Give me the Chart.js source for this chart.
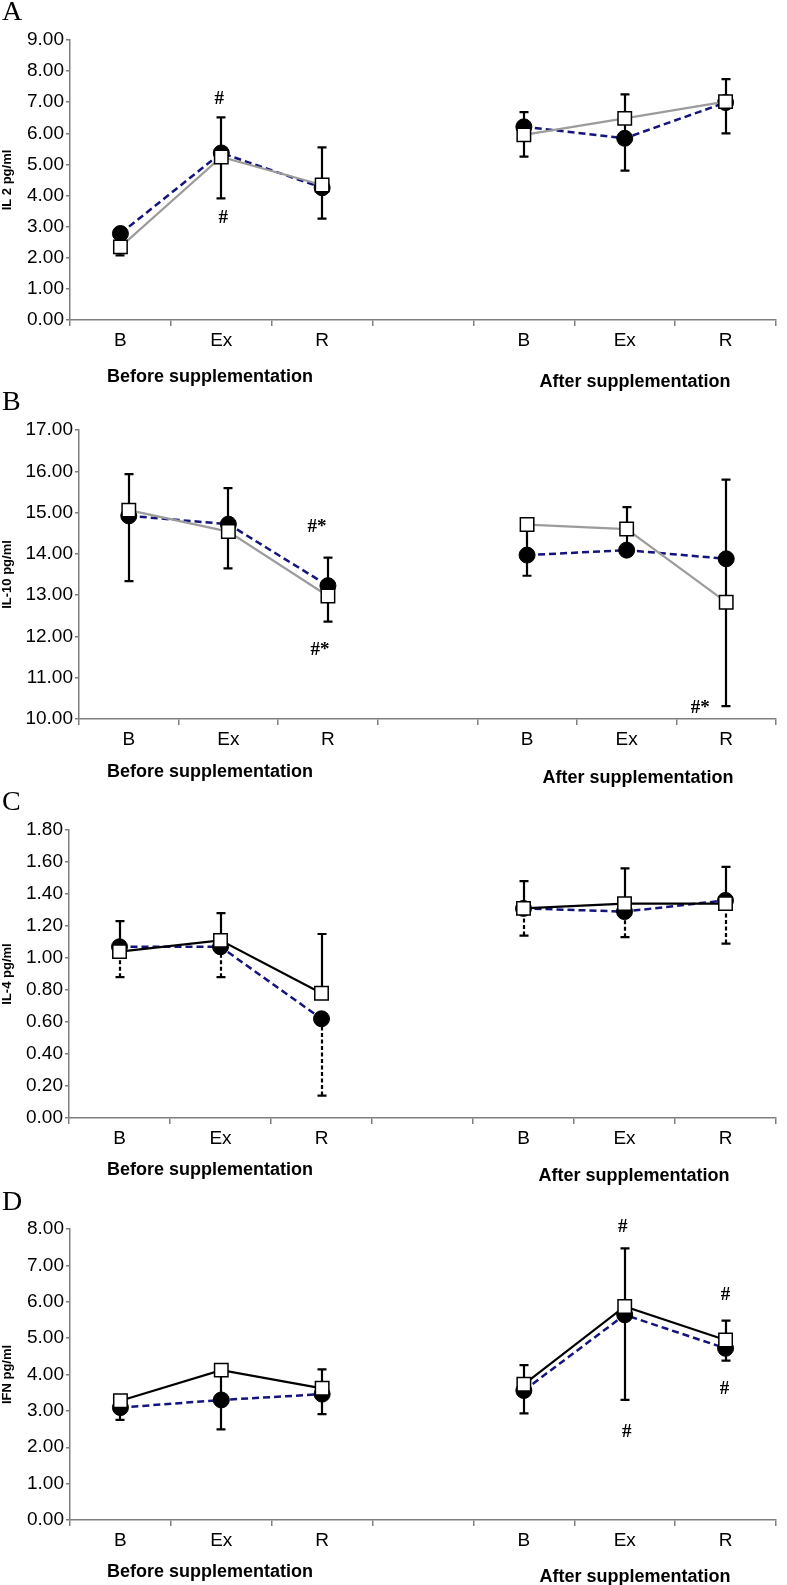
<!DOCTYPE html>
<html>
<head>
<meta charset="utf-8">
<script src="https://cdn.jsdelivr.net/npm/chart.js@4/dist/chart.umd.min.js"></script>
<style>
  body { margin: 0; background: #fff; }
  #page { position: relative; width: 787px; height: 1585px; overflow: hidden; background: #fff; }
  .panel { position: absolute; left: 0; }
  .letter { position: absolute; left: 2px; font: 28px "Liberation Serif", serif; line-height: 28px; color: #000; }
  .group { position: absolute; font: bold 18px "Liberation Sans", Arial, sans-serif; color: #000; transform: translate(-50%, -50%); white-space: nowrap; }
</style>
</head>
<body>
<div id="page"></div>
<script>
// ============================================================
// Cytokines before / after supplementation — 4 stacked panels
// ============================================================

const categories = ['B', 'Ex', 'R', '', 'B', 'Ex', 'R'];

// ---- A: IL 2 ----
const il2Circle = [2.78, 5.37, 4.25, null, 6.21, 5.84, 6.99];
const il2Square = [2.35, 5.24, 4.34, null, 5.95, 6.48, 7.02];
const il2BarLo  = [2.08, 3.91, 3.26, null, 5.25, 4.80, 6.00];
const il2BarHi  = [2.62, 6.51, 5.55, null, 6.68, 7.25, 7.74];

// ---- B: IL-10 ----
const il10Circle = [14.92, 14.72, 13.23, null, 13.97, 14.09, 13.88];
const il10Square = [15.06, 14.54, 12.98, null, 14.71, 14.60, 12.83];
const il10BarLo  = [13.34, 13.65, 12.36, null, 13.47, 14.00, 10.31];
const il10BarHi  = [15.93, 15.59, 13.91, null, 14.68, 15.13, 15.80];

// ---- C: IL-4 (upper bars belong to squares, dashed lower bars to circles) ----
const il4Circle = [1.07, 1.07, 0.62, null, 1.31, 1.29, 1.36];
const il4Square = [1.04, 1.11, 0.78, null, 1.31, 1.34, 1.34];
const il4UpHi   = [1.23, 1.28, 1.15, null, 1.48, 1.56, 1.57];
const il4DownLo = [0.88, 0.88, 0.14, null, 1.14, 1.13, 1.09];

// ---- D: IFN ----
const ifnCircle = [3.09, 3.30, 3.46, null, 3.56, 5.64, 4.72];
const ifnSquare = [3.28, 4.12, 3.62, null, 3.73, 5.87, 4.95];
const ifnBarLo  = [2.75, 2.49, 2.91, null, 2.93, 3.30, 4.38];
const ifnBarHi  = [3.43, 4.10, 4.14, null, 4.26, 7.47, 5.48];

const AXIS_GREY = '#7f7f7f';
const NAVY = '#14147e';
const FONT = '"Liberation Sans", Arial, sans-serif';

const panels = [
  {
    letter: 'A', top: 0, height: 390, area: { top: 40, bottom: 320, left: 70, right: 783 },
    yMin: 0, yMax: 9, step: 1, title: 'IL 2 pg/ml', squareLine: '#9c9c9c',
    circle: il2Circle, square: il2Square,
    bars: [{ lo: il2BarLo, hi: il2BarHi }],
    notes: [{ idx: 1, value: 7.10, text: '#', dx: -2 }, { idx: 1, value: 3.28, text: '#', dx: 2 }],
    groups: [{ x: 210, y: 376 }, { x: 635, y: 381 }]
  },
  {
    letter: 'B', top: 390, height: 400, area: { top: 40, bottom: 329, left: 79, right: 786 },
    yMin: 10, yMax: 17, step: 1, title: 'IL-10 pg/ml', squareLine: '#9c9c9c',
    circle: il10Circle, square: il10Square,
    bars: [{ lo: il10BarLo, hi: il10BarHi }],
    notes: [{ idx: 2, value: 14.65, text: '#*', dx: -11 }, { idx: 2, value: 11.67, text: '#*', dx: -8 },
            { idx: 6, value: 10.27, text: '#*', dx: -26 }],
    groups: [{ x: 210, y: 771 }, { x: 638, y: 777 }]
  },
  {
    letter: 'C', top: 790, height: 400, area: { top: 40, bottom: 328, left: 69, right: 782 },
    yMin: 0, yMax: 1.8, step: 0.2, title: 'IL-4 pg/ml', squareLine: '#000',
    circle: il4Circle, square: il4Square,
    bars: [{ lo: il4Square, hi: il4UpHi }, { lo: il4DownLo, hi: il4Circle, dashed: true }],
    notes: [],
    groups: [{ x: 210, y: 1169 }, { x: 634, y: 1175 }]
  },
  {
    letter: 'D', top: 1190, height: 395, area: { top: 39, bottom: 330, left: 70, right: 784 },
    yMin: 0, yMax: 8, step: 1, title: 'IFN pg/ml', squareLine: '#000',
    circle: ifnCircle, square: ifnSquare,
    bars: [{ lo: ifnBarLo, hi: ifnBarHi }],
    notes: [{ idx: 5, value: 8.05, text: '#', dx: -2 }, { idx: 5, value: 2.42, text: '#', dx: 2 },
            { idx: 6, value: 6.19, text: '#', dx: 0 }, { idx: 6, value: 3.60, text: '#', dx: -1 }],
    groups: [{ x: 210, y: 1571 }, { x: 635, y: 1576 }]
  }
];

// ---- error bars, drawn under the markers ----
const errorBarPlugin = {
  id: 'errorBars',
  beforeDatasetsDraw(chart, args, opts) {
    const { ctx, scales: { x, y } } = chart;
    ctx.save();
    ctx.strokeStyle = '#000';
    ctx.lineWidth = 2.2;
    (opts.bars || []).forEach(set => {
      set.lo.forEach((lo, i) => {
        const hi = set.hi[i];
        if (lo == null || hi == null) return;
        const px = Math.round(x.getPixelForValue(i));
        const y1 = y.getPixelForValue(lo);
        const y2 = y.getPixelForValue(hi);
        ctx.setLineDash(set.dashed ? [4, 2.5] : []);
        ctx.beginPath();
        ctx.moveTo(px, y1);
        ctx.lineTo(px, y2);
        ctx.stroke();
        ctx.setLineDash([]);
        ctx.beginPath();
        ctx.moveTo(px - 4.5, y1); ctx.lineTo(px + 4.5, y1);
        ctx.moveTo(px - 4.5, y2); ctx.lineTo(px + 4.5, y2);
        ctx.stroke();
      });
    });
    ctx.restore();
  }
};

// ---- significance marks (# / #*) ----
const notesPlugin = {
  id: 'notes',
  afterDatasetsDraw(chart, args, opts) {
    const { ctx, scales: { x, y } } = chart;
    ctx.save();
    ctx.fillStyle = '#000';
    ctx.font = 'bold 19px "Liberation Serif", serif';
    ctx.textAlign = 'center';
    ctx.textBaseline = 'middle';
    (opts.notes || []).forEach(n => {
      ctx.fillText(n.text, x.getPixelForValue(n.idx) + (n.dx || 0), y.getPixelForValue(n.value));
    });
    ctx.restore();
  }
};

function makePanel(p) {
  const page = document.getElementById('page');

  const wrap = document.createElement('div');
  wrap.className = 'panel';
  wrap.style.top = p.top + 'px';
  const canvas = document.createElement('canvas');
  canvas.width = 787;
  canvas.height = p.height;
  canvas.style.width = '787px';
  canvas.style.height = p.height + 'px';
  wrap.appendChild(canvas);
  page.appendChild(wrap);

  const letter = document.createElement('div');
  letter.className = 'letter';
  letter.style.top = (p.top - 3) + 'px';
  letter.textContent = p.letter;
  page.appendChild(letter);

  ['Before supplementation', 'After supplementation'].forEach((txt, k) => {
    const g = document.createElement('div');
    g.className = 'group';
    g.style.left = p.groups[k].x + 'px';
    g.style.top = p.groups[k].y + 'px';
    g.textContent = txt;
    page.appendChild(g);
  });

  const a = p.area;
  new Chart(canvas, {
    type: 'line',
    data: {
      labels: categories,
      datasets: [
        {
          label: 'square',
          data: p.square,
          borderColor: p.squareLine,
          borderWidth: 2.2,
          pointStyle: 'rect',
          pointRadius: 9.5,
          pointBackgroundColor: '#fff',
          pointBorderColor: '#000',
          pointBorderWidth: 1.5,
          spanGaps: false,
          order: 0
        },
        {
          label: 'circle',
          data: p.circle,
          borderColor: NAVY,
          borderWidth: 2.5,
          borderDash: [7, 4],
          pointStyle: 'circle',
          pointRadius: 8,
          pointBackgroundColor: '#000',
          pointBorderColor: '#000',
          pointBorderWidth: 1,
          spanGaps: false,
          order: 1
        }
      ]
    },
    options: {
      responsive: false,
      animation: false,
      devicePixelRatio: 1,
      layout: { padding: { top: a.top, right: 787 - a.right, left: 0, bottom: 0 } },
      plugins: {
        legend: { display: false },
        tooltip: { enabled: false },
        errorBars: { bars: p.bars },
        notes: { notes: p.notes }
      },
      scales: {
        x: {
          type: 'category',
          offset: true,
          afterFit(s) { s.height = p.height - a.bottom; },
          grid: { offset: true, drawOnChartArea: false, drawTicks: true, tickLength: 6, color: AXIS_GREY, lineWidth: 1.5 },
          border: { display: true, color: AXIS_GREY, width: 1.5 },
          ticks: { color: '#000', font: { family: FONT, size: 19 }, padding: 3, maxRotation: 0, autoSkip: false }
        },
        y: {
          min: p.yMin,
          max: p.yMax,
          afterFit(s) { s.width = a.left; },
          afterBuildTicks(s) {
            const t = [];
            for (let v = p.yMin; v <= p.yMax + 1e-9; v += p.step) t.push({ value: +v.toFixed(4) });
            s.ticks = t;
          },
          grid: { drawOnChartArea: false, drawTicks: true, tickLength: 4, color: AXIS_GREY, lineWidth: 1.5 },
          border: { display: true, color: AXIS_GREY, width: 1.5 },
          ticks: {
            color: '#000',
            font: { family: FONT, size: 19 },
            padding: 2,
            callback: v => Number(v).toFixed(2)
          },
          title: {
            display: true,
            text: p.title,
            color: '#000',
            font: { family: FONT, size: 13, weight: 'bold' },
            padding: { top: 0, bottom: 0 }
          }
        }
      }
    },
    plugins: [errorBarPlugin, notesPlugin]
  });
}

panels.forEach(makePanel);
</script>
</body>
</html>
